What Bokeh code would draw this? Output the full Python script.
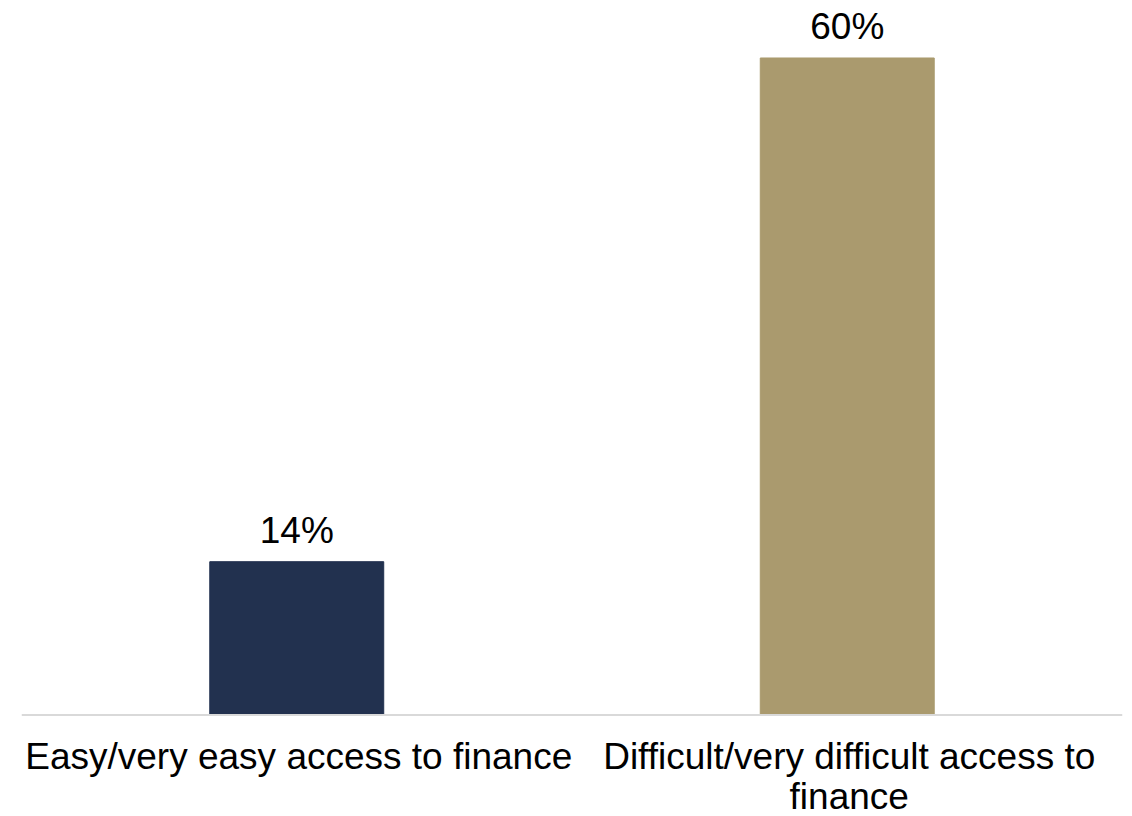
from bokeh.plotting import figure
from bokeh.models import ColumnDataSource, FactorRange, Range1d, Span
from bokeh.embed import file_html
from bokeh.resources import INLINE
from bokeh.core.properties import value

categories = ["Easy/very easy access to finance", "Difficult/very difficult access to finance"]
tick_labels = ["Easy/very easy access to finance", "Difficult/very difficult access to\nfinance"]
values = [14, 60]
labels = ["14%", "60%"]
colors = ["#22314F", "#AA9A6E"]

src = ColumnDataSource(dict(cat=categories, val=values, lab=labels, col=colors,
                            tick=tick_labels, zero=[0, 0]))

p = figure(x_range=FactorRange(*categories), y_range=Range1d(-9.27, 65.25),
           width=1132, height=816, output_backend="svg", toolbar_location=None,
           min_border_left=21, min_border_right=10, min_border_top=0, min_border_bottom=0)

p.vbar(x="cat", top="val", width=0.316, color="col", source=src)
p.add_layout(Span(location=0, dimension="width", line_color="#D9D9D9", line_width=2))
p.text(x="cat", y="val", text="lab", source=src, text_align="center",
       text_baseline="bottom", y_offset=-11, text_font=value("Liberation Sans"),
       text_font_size="37px", text_color="#000000")
p.text(x="cat", y="zero", text="tick", source=src, text_align="center",
       text_baseline="top", y_offset=21, x_offset=2, text_font=value("Liberation Sans"),
       text_font_size="37px", text_color="#000000", text_line_height=0.98)

p.xaxis.visible = False
p.yaxis.visible = False
p.xgrid.visible = False
p.ygrid.visible = False
p.outline_line_color = None
p.x_range.range_padding = 0
p.x_range.group_padding = 0

open("out.html", "w").write(file_html(p, INLINE))
